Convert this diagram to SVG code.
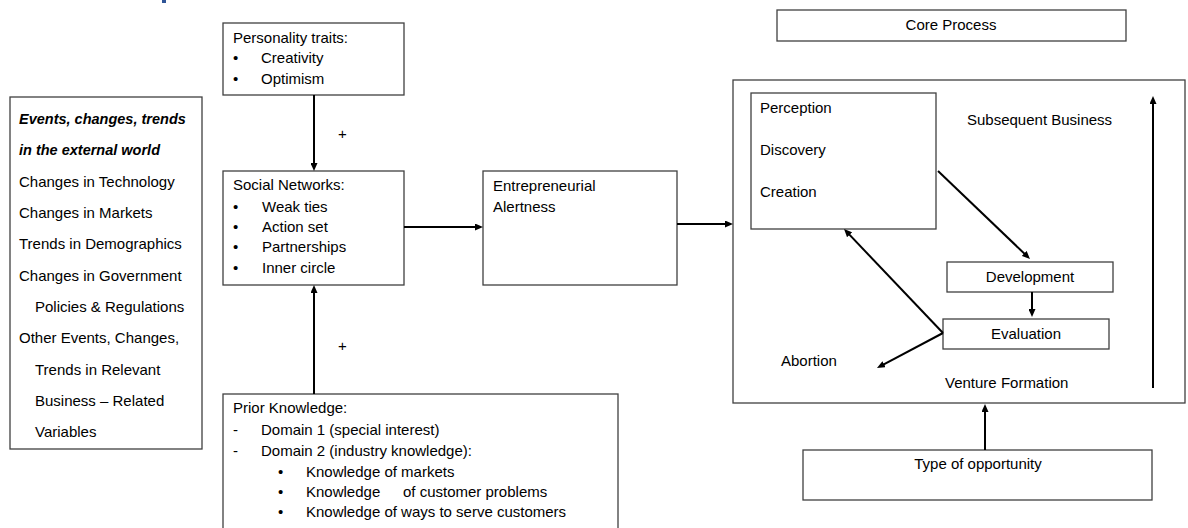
<svg xmlns="http://www.w3.org/2000/svg" width="1188" height="528" viewBox="0 0 1188 528">
<style>
.box{fill:#fff;stroke:#404040;stroke-width:1.3}
text{font-family:"Liberation Sans",Arial,sans-serif;font-size:15px;fill:#000}
.c{text-anchor:middle}
.bi{font-weight:bold;font-style:italic;font-size:14.5px}
.con{stroke:#000;stroke-width:2;fill:none;marker-end:url(#ah)}
</style>
<defs>
<marker id="ah" viewBox="0 0 8 7" markerWidth="8" markerHeight="7" markerUnits="userSpaceOnUse" refX="4" refY="3.5" orient="auto">
<path d="M0,0 L8,3.5 L0,7 z" fill="#000"/>
</marker>
</defs>
<rect x="162" y="0" width="4" height="3" fill="#2F5597"/>
<g id="external">
<rect class="box" x="10" y="97" width="192" height="352"/>
<text class="bi" x="19" y="124">Events, changes, trends</text>
<text class="bi" x="19" y="155">in the external world</text>
<text x="19" y="187">Changes in Technology</text>
<text x="19" y="218">Changes in Markets</text>
<text x="19" y="249">Trends in Demographics</text>
<text x="19" y="281">Changes in Government</text>
<text x="35" y="312">Policies &amp; Regulations</text>
<text x="19" y="343">Other Events, Changes,</text>
<text x="35" y="375">Trends in Relevant</text>
<text x="35" y="406">Business – Related</text>
<text x="35" y="437">Variables</text>
</g>
<g id="personality">
<rect class="box" x="223" y="23" width="181" height="72"/>
<text x="233" y="43">Personality traits:</text>
<text x="233" y="63">•</text><text x="261" y="63">Creativity</text>
<text x="233" y="84">•</text><text x="261" y="84">Optimism</text>
</g>
<g id="social">
<rect class="box" x="223" y="171" width="181" height="114"/>
<text x="233" y="190">Social Networks:</text>
<text x="233" y="212">•</text><text x="262" y="212">Weak ties</text>
<text x="233" y="232">•</text><text x="262" y="232">Action set</text>
<text x="233" y="252">•</text><text x="262" y="252">Partnerships</text>
<text x="233" y="273">•</text><text x="262" y="273">Inner circle</text>
</g>
<g id="prior">
<rect class="box" x="223" y="394" width="395" height="145"/>
<text x="233" y="413">Prior Knowledge:</text>
<text x="233" y="435">-</text><text x="261" y="435">Domain 1 (special interest)</text>
<text x="233" y="456">-</text><text x="261" y="456">Domain 2 (industry knowledge):</text>
<text x="278" y="477">•</text><text x="306" y="477">Knowledge of markets</text>
<text x="278" y="497">•</text><text x="306" y="497">Knowledge<tspan x="403">of customer problems</tspan></text>
<text x="278" y="517">•</text><text x="306" y="517">Knowledge of ways to serve customers</text>
</g>
<g id="alertness">
<rect class="box" x="483" y="171" width="194" height="114"/>
<text x="493" y="191">Entrepreneurial</text>
<text x="493" y="212">Alertness</text>
</g>
<g id="core-process">
<rect class="box" x="777" y="10" width="349" height="31"/>
<text class="c" x="951" y="30">Core Process</text>
</g>
<g id="venture">
<rect class="box" x="733" y="80" width="452" height="323"/>
<text x="967" y="125">Subsequent Business</text>
<text x="781" y="366">Abortion</text>
<text x="945" y="388">Venture Formation</text>
</g>
<g id="perception">
<rect class="box" x="751" y="93" width="185" height="136"/>
<text x="760" y="113">Perception</text>
<text x="760" y="155">Discovery</text>
<text x="760" y="197">Creation</text>
</g>
<g id="development">
<rect class="box" x="947" y="262" width="166" height="30"/>
<text class="c" x="1030" y="282">Development</text>
</g>
<g id="evaluation">
<rect class="box" x="943" y="319" width="166" height="30"/>
<text class="c" x="1026" y="339">Evaluation</text>
</g>
<g id="opportunity">
<rect class="box" x="803" y="450" width="349" height="50"/>
<text class="c" x="978" y="469">Type of opportunity</text>
</g>
<g id="plus-labels">
<text x="338" y="139">+</text>
<text x="338" y="351">+</text>
</g>
<g id="connectors">
<path class="con" d="M314,95 L314,167"/>
<path class="con" d="M314,394 L314,289"/>
<path class="con" d="M404,227 L479,227"/>
<path class="con" d="M677,224 L729,224"/>
<path class="con" d="M938,171 L1027.1,256.2"/>
<path class="con" d="M1032,292 L1032,313"/>
<path class="con" d="M943,333 L846.8,231.9"/>
<path class="con" d="M943,333 L880.5,366.1"/>
<path class="con" d="M1153,388 L1153,100"/>
<path class="con" d="M985,450 L985,408"/>
</g>
</svg>
